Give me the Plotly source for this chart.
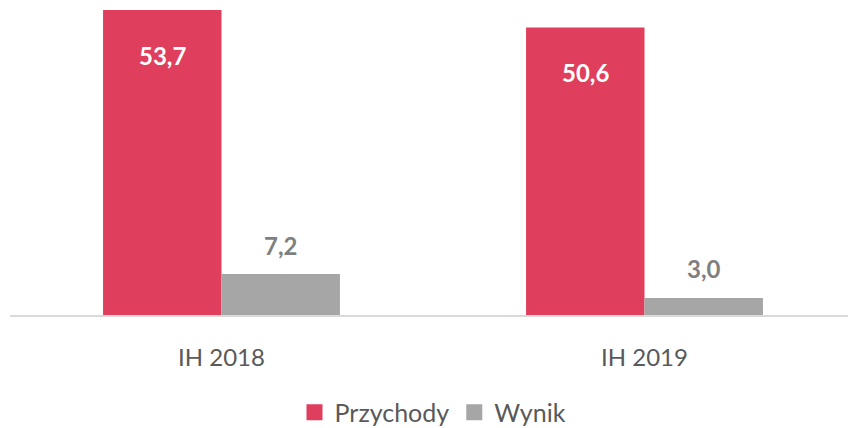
import plotly.graph_objects as go

categories = ["IH 2018", "IH 2019"]
przychody = [53.7, 50.6]
wynik = [7.2, 3.0]
series_names = ["Przychody", "Wynik"]

RED = "#DF3E5C"
GRAY = "#A6A6A6"
FONT = "Lato, 'Open Sans', sans-serif"

def fmt(v):
    return f"{v:.1f}".replace(".", ",")

fig = go.Figure()
fig.add_trace(go.Bar(name=series_names[0], x=categories, y=przychody, marker_color=RED,
                     marker_line_width=0, showlegend=False))
fig.add_trace(go.Bar(name=series_names[1], x=categories, y=wynik, marker_color=GRAY,
                     marker_line_width=0, showlegend=False))
# legend entries with larger square swatches
for name, col in zip(series_names, [RED, GRAY]):
    fig.add_trace(go.Scatter(name=name, x=[None], y=[None], mode="markers",
                             marker=dict(symbol="square", size=17, color=col)))

annotations = []
for c, v in zip(categories, przychody):
    annotations.append(dict(x=c, y=v, xref="x", yref="y", text=f"<b>{fmt(v)}</b>",
                            showarrow=False, xshift=-59, yshift=-45, yanchor="middle",
                            font=dict(family=FONT, size=24, color="white")))
for c, v in zip(categories, wynik):
    annotations.append(dict(x=c, y=v, xref="x", yref="y", text=f"<b>{fmt(v)}</b>",
                            showarrow=False, xshift=59, yshift=29, yanchor="middle",
                            font=dict(family=FONT, size=24, color="#7F7F7F")))

# page body has an 8px margin, so the figure is sized/offset to compensate
fig.update_layout(
    width=848, height=420, autosize=False,
    margin=dict(l=2, r=0, t=2, b=113, pad=0, autoexpand=False),
    plot_bgcolor="white", paper_bgcolor="white",
    barmode="group", bargap=0.44, bargroupgap=0,
    font=dict(family=FONT, color="#595959"),
    xaxis=dict(showline=True, linecolor="#D9D9D9", linewidth=2, ticks="",
               tickfont=dict(size=24, color="#595959"), ticklabelstandoff=20,
               showgrid=False, automargin=False, fixedrange=True),
    yaxis=dict(range=[0, 53.7], visible=False, showgrid=False, zeroline=False,
               automargin=False, fixedrange=True),
    legend=dict(orientation="h", x=0.5, xanchor="center", y=-0.32, yanchor="middle",
                font=dict(size=25, color="#595959"), itemwidth=30),
    annotations=annotations,
    showlegend=True,
)

fig.write_html("out.html", config={"displayModeBar": False})
